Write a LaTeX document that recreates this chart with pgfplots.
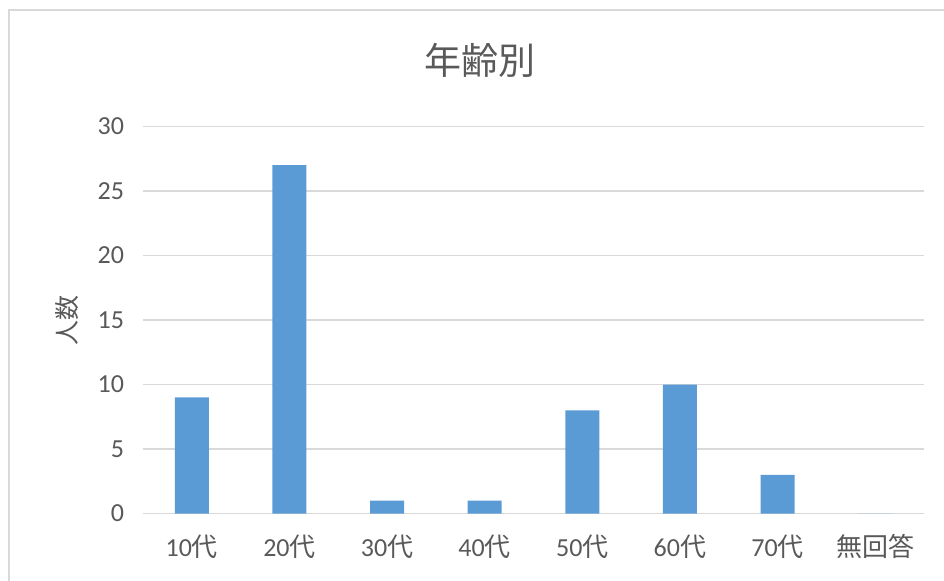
\documentclass[border=0pt]{standalone}
\usepackage{fontspec}
\setmainfont{Carlito}
\newfontfamily\cjk{Noto Sans CJK JP}
\usepackage{pgfplots}
\pgfplotsset{compat=1.18}
\definecolor{barblue}{HTML}{5B9BD5}
\definecolor{txt}{HTML}{595959}
\definecolor{gridc}{HTML}{D9D9D9}
\begin{document}
\begin{tikzpicture}
\useasboundingbox (-71.5pt,-33.25pt) rectangle (400.5pt,256.75pt);
\draw[gridc, line width=1pt] (-67pt,-40pt) -- (-67pt,251.75pt) -- (410pt,251.75pt);
\begin{axis}[
  at={(0pt,0pt)}, anchor=south west,
  scale only axis, width=390.5pt, height=193.5pt,
  xmin=-0.5, xmax=7.5, ymin=0, ymax=30,
  axis line style={draw=none},
  ytick={0,5,...,30},
  xtick={0,...,7},
  xticklabels={10{\cjk 代},20{\cjk 代},30{\cjk 代},40{\cjk 代},50{\cjk 代},60{\cjk 代},70{\cjk 代},{\cjk 無回答}},
  major tick length=0pt,
  ymajorgrids, grid style={gridc, line width=0.9pt},
  tick label style={font=\fontsize{13}{15}\selectfont, text=txt},
  /pgf/number format/assume math mode=true,
  yticklabel style={xshift=-6pt},
  xticklabel style={yshift=-7pt},
  ybar, bar width=17pt,
]
\addplot[fill=barblue, draw=none] coordinates {(0,9) (1,27) (2,1) (3,1) (4,8) (5,10) (6,3) (7,0)};
\end{axis}
\node[text=txt, font=\cjk\fontsize{18.5}{22}\selectfont] at (168.5pt,226.75pt) {年齢別};
\node[text=txt, font=\cjk\fontsize{12.5}{15}\selectfont, rotate=90] at (-38pt,96.75pt) {人数};
\end{tikzpicture}
\end{document}
